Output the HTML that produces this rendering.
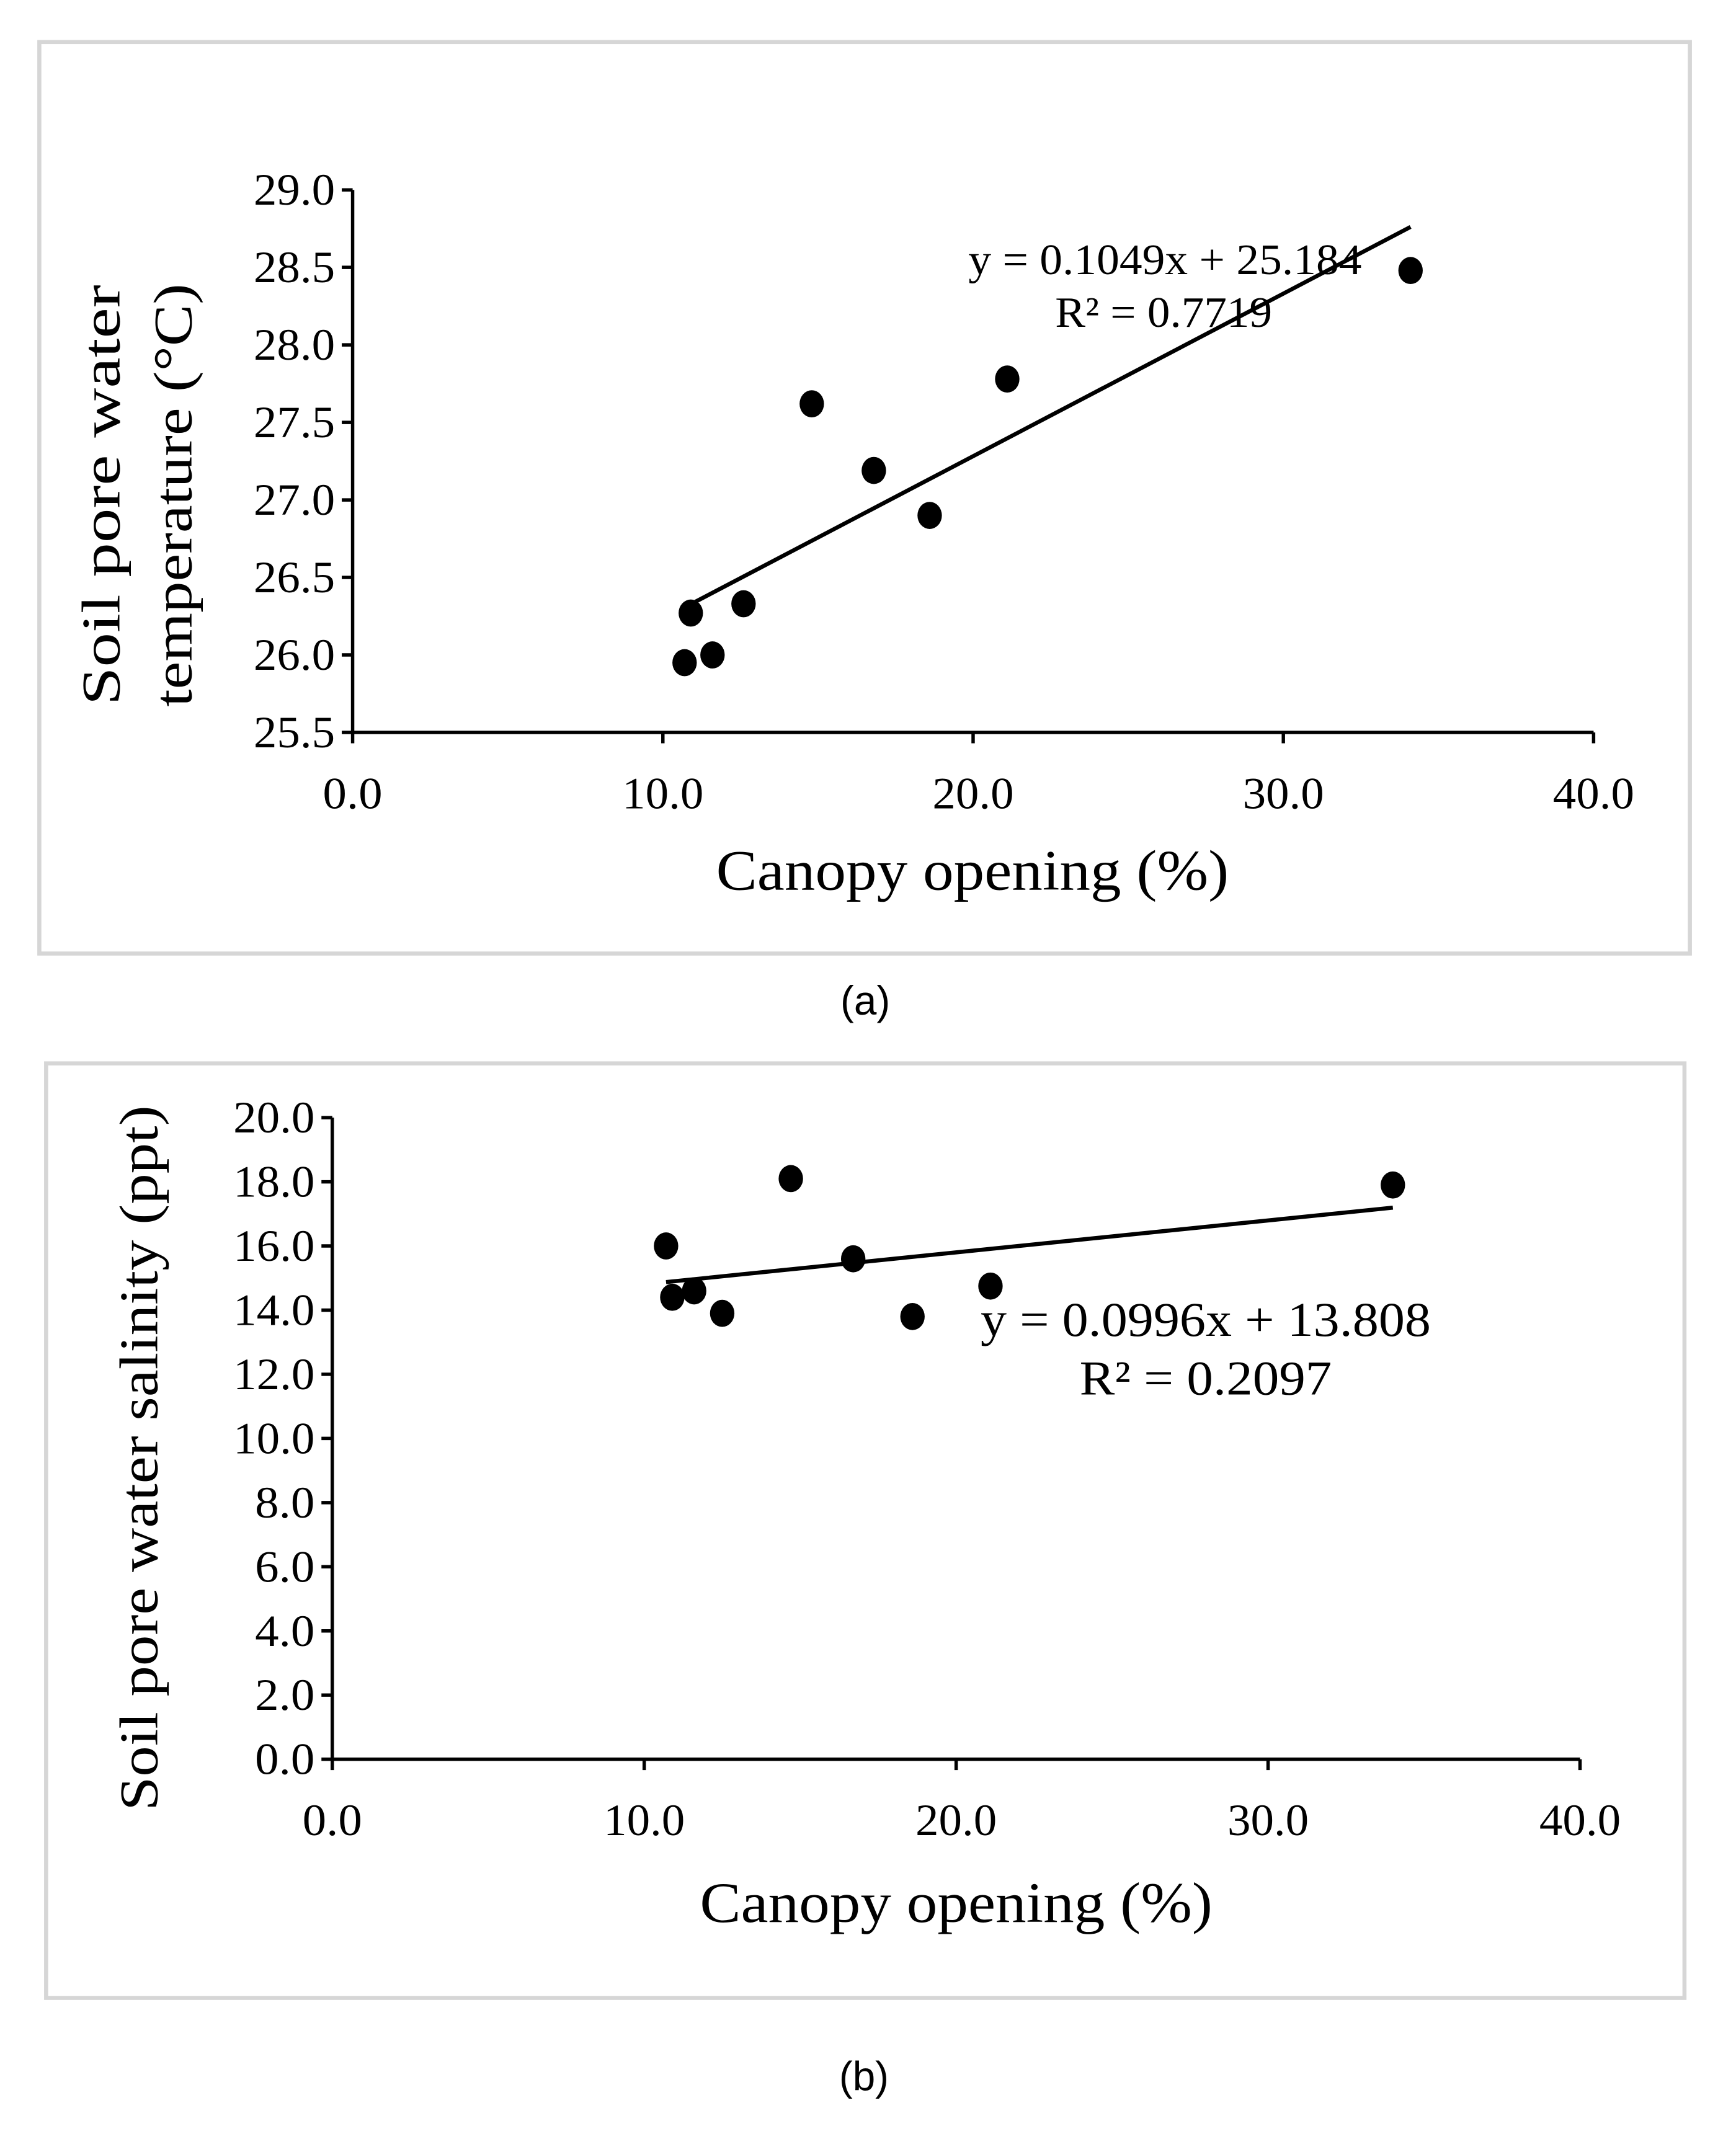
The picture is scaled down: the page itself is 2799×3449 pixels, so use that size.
<!DOCTYPE html>
<html><head><meta charset="utf-8"><style>
html,body{margin:0;padding:0;background:#fff}
svg{display:block}
text{font-family:"Liberation Serif",serif;fill:#000}
</style></head><body>
<svg id="root" width="2799" height="3449" viewBox="0 0 1280 1577" preserveAspectRatio="none" xmlns="http://www.w3.org/2000/svg">
<rect x="0" y="0" width="1280" height="1577" fill="#fff"/>
<rect x="29" y="31" width="1217" height="672" fill="none" stroke="#d6d6d6" stroke-width="3"/>
<rect x="34" y="784" width="1208" height="689" fill="none" stroke="#d6d6d6" stroke-width="3"/>
<g id="ga"></g>
<g id="gb"></g>
<text x="638" y="748" font-size="30" text-anchor="middle" style="font-family:'Liberation Sans',sans-serif">(a)</text>
<text x="637" y="1541" font-size="30" text-anchor="middle" style="font-family:'Liberation Sans',sans-serif">(b)</text>
</svg>
<script>
const aX=[10.7,10.9,11.6,12.6,14.8,16.8,18.6,21.1,34.1];
const aY=[25.95,26.27,26.0,26.33,27.62,27.19,26.9,27.78,28.48];
const aYTicks=[25.5,26.0,26.5,27.0,27.5,28.0,28.5,29.0];
const bX=[10.7,10.9,11.6,12.5,14.7,16.7,18.6,21.1,34.0];
const bY=[16.0,14.4,14.6,13.9,18.1,15.6,13.8,14.75,17.9];
const bYTicks=[0,2,4,6,8,10,12,14,16,18,20];
const xTicks=[0,10,20,30,40];
const aFit=[0.1049,25.184];
const bFit=[0.0996,13.808];
const NS='http://www.w3.org/2000/svg';
function mk(p,tag,at,txt){const e=document.createElementNS(NS,tag);for(const k in at)e.setAttribute(k,at[k]);if(txt!==undefined)e.textContent=txt;p.appendChild(e);return e;}
function tw(s){return s.length===3?44:60;}
function chart(g,o){
  const sx=v=>o.x0+(v-0)/(40-0)*(o.x1-o.x0);
  const sy=v=>o.y0+(v-o.ymin)/(o.ymax-o.ymin)*(o.y1-o.y0);
  let e;
  e=mk(g,'line',{x1:o.x0,y1:o.y0,x2:o.x1,y2:o.y0,stroke:'#000','stroke-width':2.5});
  
  
  e=mk(g,'line',{x1:o.x0,y1:o.y0,x2:o.x0,y2:o.y1,stroke:'#000','stroke-width':2.5});
  
  
  xTicks.forEach(t=>{
    const s=t.toFixed(1);
    e=mk(g,'line',{x1:sx(t),y1:o.y0,x2:sx(t),y2:o.y0+8,stroke:'#000','stroke-width':2.5});
    
    
    e=mk(g,'text',{x:sx(t),y:o.y0+56,'font-size':33,'text-anchor':'middle',textLength:tw(s),lengthAdjust:'spacingAndGlyphs'},s);
    
    
  });
  o.yt.forEach(t=>{
    const s=t.toFixed(1);
    e=mk(g,'line',{x1:o.x0-8,y1:sy(t),x2:o.x0,y2:sy(t),stroke:'#000','stroke-width':2.5});
    
    
    e=mk(g,'text',{x:o.x0-13,y:sy(t)+11,'font-size':33,'text-anchor':'end',textLength:tw(s),lengthAdjust:'spacingAndGlyphs'},s);
    
    
  });
  const xa=o.fx[0],xb=o.fx[1];
  e=mk(g,'line',{x1:sx(xa),y1:sy(o.fit[0]*xa+o.fit[1]),x2:sx(xb),y2:sy(o.fit[0]*xb+o.fit[1]),stroke:'#000','stroke-width':3});
  
  
  o.xs.forEach((v,i)=>{
    e=mk(g,'ellipse',{cx:sx(v),cy:sy(o.ys[i]),rx:9,ry:10,fill:'#000'});
    
    
  });
  e=mk(g,'text',{x:o.ex,y:o.ey,'font-size':o.ef,textLength:o.ew,lengthAdjust:'spacingAndGlyphs'},'y = '+o.fit[0]+'x + '+o.fit[1]);
  
  
  e=mk(g,'text',{x:o.rx,y:o.ry,'font-size':o.ef,textLength:o.rw,lengthAdjust:'spacingAndGlyphs'},'R² = '+o.r2);
  
  
  e=mk(g,'text',{x:o.xtx,y:o.xty,'font-size':42,'text-anchor':'middle',textLength:o.xtw,lengthAdjust:'spacingAndGlyphs'},'Canopy opening (%)');
  
  
  o.ytl.forEach((l,i)=>{
    e=mk(g,'text',{x:0,y:0,'font-size':40,'text-anchor':'middle',transform:'translate('+l[1]+','+o.ytc+') rotate(-90)',textLength:l[2],lengthAdjust:'spacingAndGlyphs'},l[0]);
    
    
  });
}
chart(document.getElementById('ga'),{x0:260,x1:1175,y0:540,y1:140,ymin:25.5,ymax:29.0,yt:aYTicks,xs:aX,ys:aY,fit:aFit,fx:[10.9,34.1],
  ex:714,ey:202,ef:32,ew:290,rx:778,ry:241,rw:160,r2:'0.7719',xtx:717,xty:656,xtw:378,ytc:365,
  ytl:[['Soil pore water',88,310],['temperature  (°C)',141,312]]});
chart(document.getElementById('gb'),{x0:245,x1:1165,y0:1297,y1:824,ymin:0,ymax:20,yt:bYTicks,xs:bX,ys:bY,fit:bFit,fx:[10.7,34.0],
  ex:723,ey:985,ef:36,ew:332,rx:796,ry:1028,rw:186,r2:'0.2097',xtx:705,xty:1417,xtw:378,ytc:1075,
  ytl:[['Soil pore water salinity  (ppt)',116,520]]});
</script>
</body></html>
